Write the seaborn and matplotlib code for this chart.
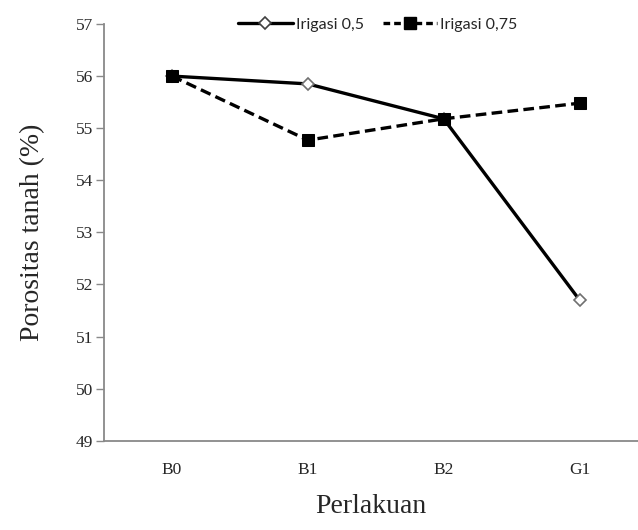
import matplotlib
matplotlib.use("Agg")
import matplotlib.pyplot as plt
import seaborn as sns
import pandas as pd
from matplotlib.lines import Line2D

categories = ["B0", "B1", "B2", "G1"]
irigasi_05 = [56.0, 55.85, 55.18, 51.7]
irigasi_075 = [56.0, 54.77, 55.18, 55.48]
series_names = ["Irigasi 0,5", "Irigasi 0,75"]
y_ticks = [49, 50, 51, 52, 53, 54, 55, 56, 57]

df05 = pd.DataFrame({"Perlakuan": categories, "Porositas": irigasi_05})
df075 = pd.DataFrame({"Perlakuan": categories, "Porositas": irigasi_075})

sns.set_style("white")
plt.rcParams["font.family"] = ["Liberation Serif", "DejaVu Serif"]

fig = plt.figure(figsize=(6.38, 5.30), dpi=100)
ax = fig.add_axes([104/638, 1-440.7/530, 1-104/638, (440.7-24)/530])

sns.lineplot(data=df05, x="Perlakuan", y="Porositas", ax=ax, color="black",
             linewidth=2.4, marker="D", markersize=6, markerfacecolor="white",
             markeredgecolor="#707070", markeredgewidth=1.2, zorder=3)
sns.lineplot(data=df075, x="Perlakuan", y="Porositas", ax=ax, color="black",
             linewidth=2.4, linestyle=(0, (3.2, 1.6)), marker="s", markersize=8.5,
             markerfacecolor="black", markeredgecolor="black", zorder=4)

ax.set_xlim(-0.5, 3.43)
ax.set_ylim(49, 57)
ax.set_yticks(y_ticks)
ax.set_yticklabels([str(t) for t in y_ticks], fontsize=12.5)
ax.tick_params(axis="x", length=0, labelsize=12.5, pad=15)
ax.tick_params(axis="y", length=6, width=1, color="#898989", direction="out", pad=2, left=True)

for s in ["top", "right"]:
    ax.spines[s].set_visible(False)
for s in ["left", "bottom"]:
    ax.spines[s].set_color("#898989")
    ax.spines[s].set_linewidth(1.3)

ax.set_xlabel("Perlakuan", fontsize=20, labelpad=12)
ax.set_ylabel("Porositas tanah (%)", fontsize=20, labelpad=22)

handles = [
    Line2D([], [], color="black", linewidth=2.4, marker="D", markersize=6,
           markerfacecolor="white", markeredgecolor="#404040", markeredgewidth=1.2),
    Line2D([], [], color="black", linewidth=2.4, linestyle=(0, (2.0, 1.2)), marker="s",
           markersize=8.5, markerfacecolor="black"),
]
leg = fig.legend(handles, series_names, loc="center", bbox_to_anchor=(378/638, 1-25/530),
                 ncol=2, frameon=False, prop={"family": "Lato", "size": 11.5},
                 handlelength=3.4, handletextpad=0.2, columnspacing=1.2)

fig.savefig("out.png", dpi=100)
